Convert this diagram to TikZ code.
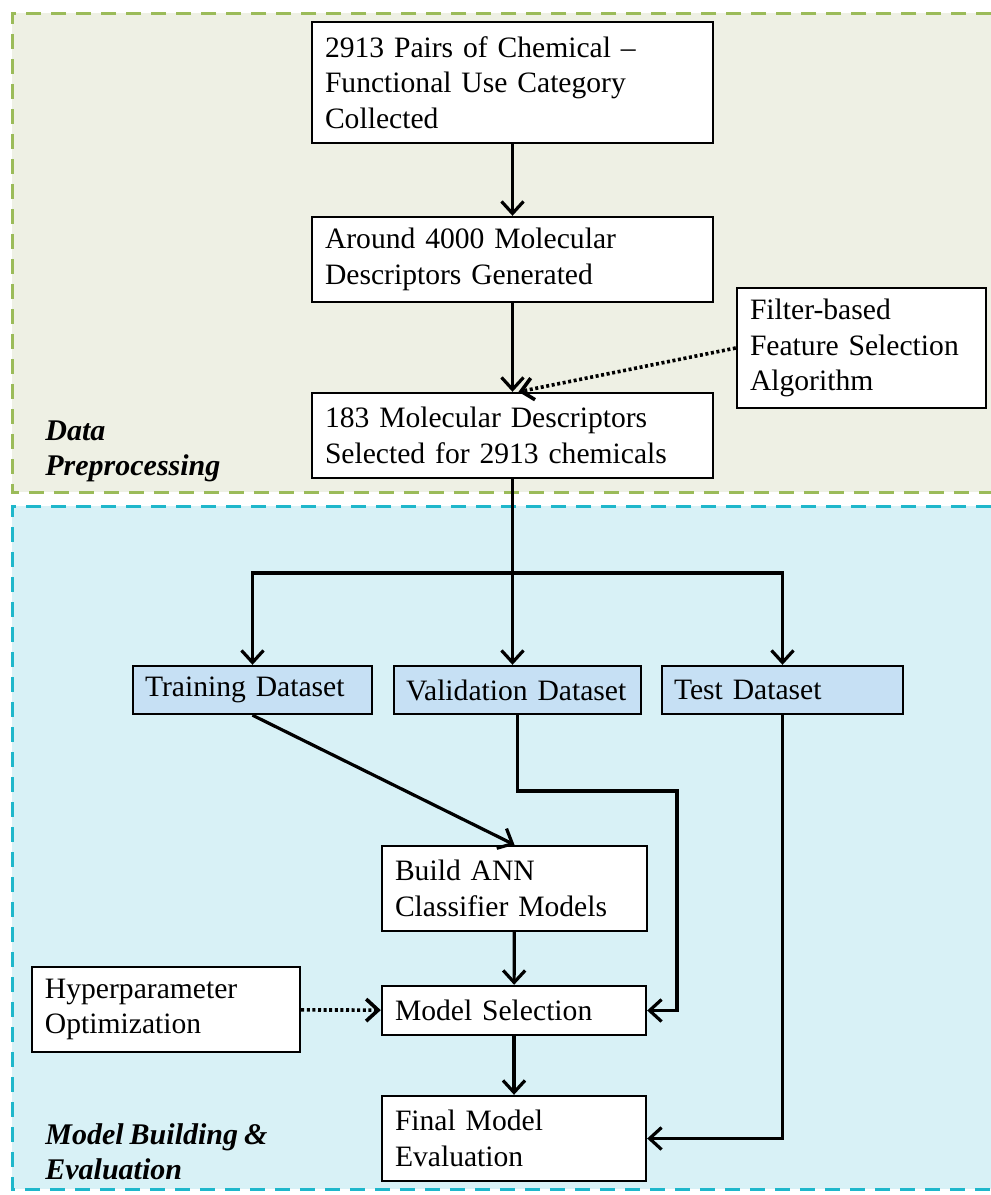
\documentclass[tikz,border=0pt]{standalone}
\usepackage{fontspec}
\setmainfont{Liberation Serif}[WordSpace=0.8]
\usepackage{tikz}
\usetikzlibrary{arrows.meta}
\newcommand{\pxunit}{0.5pt}
\definecolor{prepfill}{HTML}{EEF0E4}
\definecolor{prepline}{HTML}{9BBB59}
\definecolor{modelfill}{HTML}{D8F1F6}
\definecolor{modelline}{HTML}{1FB7CB}
\definecolor{setfill}{HTML}{C6E0F4}

\begin{document}
\begin{tikzpicture}[x=\pxunit,y=-\pxunit,
	font=\fontsize{14.8pt}{17.75pt}\selectfont,
	box/.style={draw, line width=1.2pt, fill=white, align=left, inner xsep=6.5pt, inner ysep=0pt},
	wide/.style={box, text width=187.5pt, minimum height=42.5pt},
	dataset/.style={box, fill=setfill, inner xsep=6pt, text width=108.5pt, minimum height=24pt},
	arr/.style={line width=1.6pt, -{Straight Barb[length=6pt,width=11pt]}},
	dotarr/.style={arr, line width=1.8pt, dash pattern=on 1.5pt off 1.3pt},
	region/.style={line width=1.5pt, dash pattern=on 7.5pt off 5pt},
	stage/.style={font=\fontsize{15pt}{17.75pt}\selectfont\bfseries\itshape, align=left, inner sep=0pt, anchor=north west}]
	\useasboundingbox (0,0) rectangle (991,1195);

	% the two stages
	\fill[prepfill] (12,13) rectangle (991,492);
	\draw[region, prepline] (991,13) -- (12,13) -- (12,492) -- (991,492);
	\fill[modelfill] (12,506) rectangle (991,1189);
	\draw[region, modelline] (991,506) -- (12,506) -- (12,1189) -- (991,1189);
	\node[stage] (prepname) at (45,420) {Data\\Preprocessing};
	\node[stage] (modelname) at (45,1123) {Model Building \&\\Evaluation};

	\node[wide, minimum height=60.5pt] (collect) at (512.5,82.5) {2913 Pairs of Chemical --\\Functional Use Category\\Collected};
	\node[wide] (generate) at (512.5,259.5) {Around 4000 Molecular\\Descriptors Generated};
	\node[wide] (select) at (512.5,435.5) {183 Molecular Descriptors\\Selected for 2913 chemicals};
	\node[box, text width=111.5pt, minimum height=60pt] (filter) at (861.5,348) {Filter-based\\Feature Selection\\Algorithm};

	\node[dataset, text width=107.5pt] (train) at (252.5,690) {Training Dataset};
	\node[dataset, text width=111.5pt] (valid) at (517.5,690) {Validation Dataset};
	\node[dataset, text width=108.5pt] (test) at (782.5,690) {Test Dataset};

	\node[box, text width=119.5pt, minimum height=42.5pt] (build) at (514.5,888.5) {Build ANN\\Classifier Models};
	\node[box, text width=119pt, minimum height=24.5pt] (modsel) at (514,1010.5) {Model Selection};
	\node[box, text width=119pt, minimum height=42.5pt] (final) at (514,1138.5) {Final Model\\Evaluation};
	\node[box, text width=121pt, minimum height=42.5pt] (hyper) at (166,1009.5) {Hyperparameter\\Optimization};

	\coordinate (split) at (512.5,573);
	\coordinate (vbend) at (677,791);

	\draw[arr] (collect) -- (generate);
	\draw[arr] (generate) -- (select);
	\draw[dotarr] (filter.west) -- ([xshift=3pt]select.north);
	\draw[line width=1.6pt] (select.south) -- (split);
	\draw[line width=1.6pt] (split -| train.north) -- (split -| test.north);
	\draw[arr] (split) -| (train.north);
	\draw[arr] (split) -- (split |- valid.north);
	\draw[arr] (split) -| (test.north);
	\draw[arr] (train.south) -- (build.north);
	\draw[arr] (valid.south) |- (vbend) |- (modsel.east);
	\draw[arr] (test.south) |- (final.east);
	\draw[arr] (build) -- (modsel);
	\draw[arr] (modsel) -- (final);
	\draw[dotarr] (hyper) -- (modsel);
\end{tikzpicture}
\end{document}
